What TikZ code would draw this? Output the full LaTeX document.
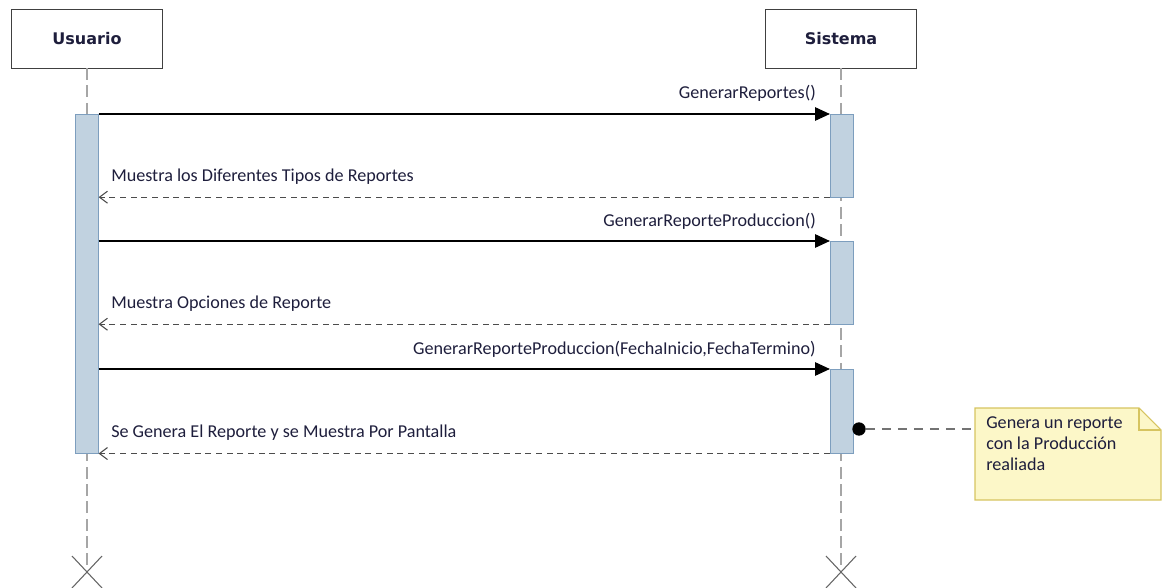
\documentclass[tikz,border=0pt]{standalone}
\usepackage{fontspec}
\setmainfont{Carlito}
\newfontfamily\titlefont{DejaVu Sans}
\usetikzlibrary{arrows.meta}

\definecolor{actfill}{RGB}{193,210,224}
\definecolor{actline}{RGB}{125,158,190}
\definecolor{notefill}{RGB}{252,247,200}
\definecolor{noteline}{RGB}{214,196,96}
\definecolor{lbltext}{RGB}{30,30,60}

\tikzset{
  actor/.style={draw=black!75,fill=white,minimum width=113pt,minimum height=44pt,
    font=\titlefont\bfseries\fontsize{12}{14}\selectfont,text=lbltext},
  act/.style={draw=actline,fill=actfill,minimum width=17pt,inner sep=0pt},
  lifeline/.style={draw=black!35,dash pattern=on 9pt off 4pt,line width=.8pt},
  msg/.style={draw=black,line width=.8pt,-{Triangle[length=11pt,width=10pt]}},
  ret/.style={draw=black!70,line width=.8pt,dash pattern=on 4.5pt off 3.5pt,
    -{Straight Barb[length=6pt,width=9pt]}},
  lbl/.style={font=\fontsize{13.6}{16}\selectfont,text=lbltext,inner sep=0pt},
  notetext/.style={font=\fontsize{13.6}{15.8}\selectfont,text=lbltext,inner sep=0pt,align=left},
}

\begin{document}
\begin{tikzpicture}[x=0.75pt,y=-0.75pt]
      \useasboundingbox (0,0) rectangle (1162,588);

      % actors
      \node[actor] (usuario) at (87,38.5) {Usuario};
      \node[actor] (sistema) at (841,38.5) {Sistema};
      \coordinate (uend) at (87,572);
      \coordinate (send) at (841,572);

      % lifelines
      \path[lifeline] (usuario) -- (uend);
      \path[lifeline] (sistema) -- (send);
      \begin{scope}[black!60,line width=.8pt]
        \draw (uend) +(-15,-16) -- +(15,16);
        \draw (uend) +(-15,16) -- +(15,-16);
        \draw (send) +(-15,-16) -- +(15,16);
        \draw (send) +(-15,16) -- +(15,-16);
      \end{scope}

      % activations
      \node[act,anchor=north,minimum height=254pt] (ua) at (87,114) {};
      \node[act,anchor=north,minimum height=62pt] (s1) at (841.5,114) {};
      \node[act,anchor=north,minimum height=62pt] (s2) at (841.5,241) {};
      \node[act,anchor=north,minimum height=63pt] (s3) at (841.5,369) {};

      % messages
      \draw[msg] (ua.north east) -- (s1.north west);
      \draw[ret] (s1.south west) -- (ua.east |- s1.south);
      \draw[msg] (ua.east |- s2.north) -- (s2.north west);
      \draw[ret] (s2.south west) -- (ua.east |- s2.south);
      \draw[msg] (ua.east |- s3.north) -- (s3.north west);
      \draw[ret] (s3.south west) -- (ua.east |- s3.south);

      \begin{scope}[every node/.style={lbl}]
        \node[anchor=base east] (m1) at (816,99) {GenerarReportes()};
        \node[anchor=base west] (r1) at (111,181) {Muestra los Diferentes Tipos de Reportes};
        \node[anchor=base east] (m2) at (816,226) {GenerarReporteProduccion()};
        \node[anchor=base west] (r2) at (111,308) {Muestra Opciones de Reporte};
        \node[anchor=base east] (m3) at (816,354) {GenerarReporteProduccion(FechaInicio,FechaTermino)};
        \node[anchor=base west] (r3) at (111,437) {Se Genera El Reporte y se Muestra Por Pantalla};
      \end{scope}

      % note
      \coordinate (nw) at (975,408);
      \coordinate (se) at (1161,500);
      \fill[notefill] (nw) -- (1139,408) -- (1161,430) -- (se) -- (975,500) -- cycle;
      \draw[noteline,line width=.8pt] (nw) -- (1139,408) -- (1161,430) -- (se) -- (975,500) -- cycle;
      \draw[noteline,line width=.8pt] (1139,408) -- (1139,430) -- (1161,430);
      \node[notetext,anchor=north west] (nota) at (986,416)
        {Genera un reporte\\con la Producción\\realiada};
      \node[circle,fill=black,inner sep=0pt,minimum size=10pt] (dot) at (859,429) {};
      \draw[black!55,line width=1.5pt,dash pattern=on 7pt off 5pt] (dot) -- (nw |- dot);

    \end{tikzpicture}
\end{document}
